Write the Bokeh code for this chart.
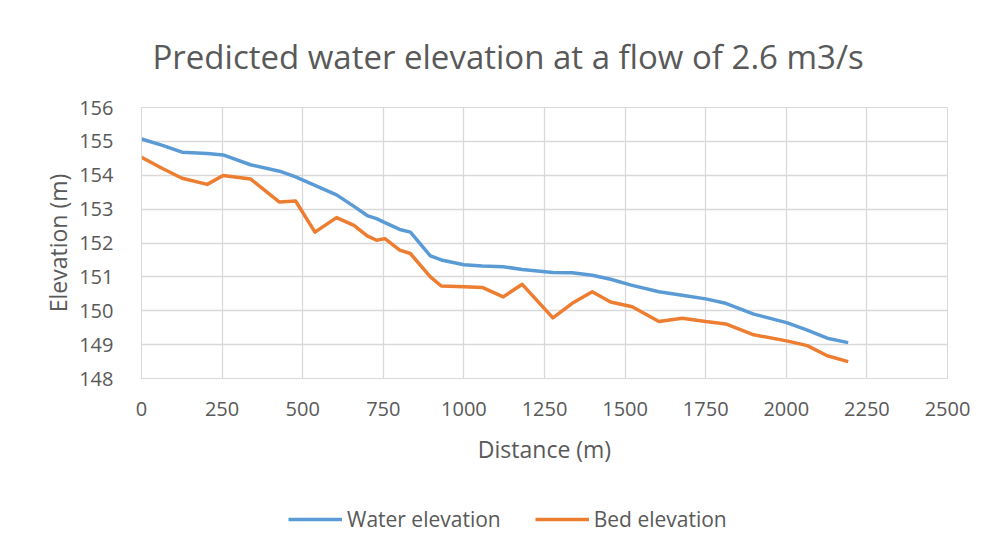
from bokeh.plotting import figure
from bokeh.models import Range1d, Legend, LegendItem, FixedTicker
from bokeh.layouts import column
from bokeh.embed import file_html
from bokeh.resources import INLINE

distance = [0, 65, 126, 204, 253, 338, 428, 478, 538, 605, 659, 700, 729, 755, 801, 834,
            896, 930, 1000, 1057, 1122, 1181, 1276, 1336, 1398, 1455, 1522, 1605, 1677,
            1750, 1812, 1899, 2001, 2065, 2127, 2192]
water_elev = [155.07, 154.88, 154.68, 154.64, 154.60, 154.31, 154.12, 153.95, 153.70, 153.42,
              153.08, 152.81, 152.72, 152.60, 152.40, 152.32, 151.62, 151.50, 151.36, 151.32,
              151.30, 151.22, 151.13, 151.12, 151.05, 150.93, 150.75, 150.56, 150.46, 150.35,
              150.22, 149.90, 149.65, 149.43, 149.19, 149.06]
bed_elev = [154.53, 154.20, 153.91, 153.73, 153.99, 153.89, 153.21, 153.24, 152.32, 152.75,
            152.52, 152.21, 152.08, 152.13, 151.79, 151.69, 151.00, 150.73, 150.71, 150.69,
            150.41, 150.78, 149.79, 150.22, 150.56, 150.26, 150.12, 149.68, 149.78, 149.68,
            149.61, 149.29, 149.11, 148.97, 148.67, 148.50]
series_names = ["Water elevation", "Bed elevation"]
series_colors = ["#5B9BD5", "#ED7D31"]

x_ticks = [0, 250, 500, 750, 1000, 1250, 1500, 1750, 2000, 2250, 2500]
y_ticks = [148, 149, 150, 151, 152, 153, 154, 155, 156]

TXT = "#595959"
GRID = "#D9D9D9"
FONT = "Open Sans"

p = figure(width=983, height=476, output_backend="svg", toolbar_location=None,
           x_range=Range1d(0, 2500), y_range=Range1d(148, 156),
           min_border_left=141, min_border_right=36, min_border_top=107, min_border_bottom=98)

p.title.text = "Predicted water elevation at a flow of 2.6 m3/s"
p.title.align = "left"
p.title.offset = 11
p.title.standoff = 58
p.title.text_font = FONT
p.title.text_font_size = "33px"
p.title.text_font_style = "normal"
p.title.text_color = TXT

p.outline_line_color = GRID
p.background_fill_color = "white"
p.border_fill_color = "white"

p.xaxis.ticker = FixedTicker(ticks=x_ticks)
p.yaxis.ticker = FixedTicker(ticks=y_ticks)
for ax in (p.xaxis, p.yaxis):
    ax.major_tick_line_color = None
    ax.minor_tick_line_color = None
    ax.axis_line_color = GRID
    ax.major_label_text_font = FONT
    ax.major_label_text_font_size = "20px"
    ax.major_label_text_color = TXT
    ax.axis_label_text_font = FONT
    ax.axis_label_text_font_size = "23px"
    ax.axis_label_text_font_style = "normal"
    ax.axis_label_text_color = TXT
p.xaxis.axis_label = "Distance (m)"
p.yaxis.axis_label = "Elevation (m)"
p.xaxis.major_label_standoff = 17
p.yaxis.major_label_standoff = 22
p.xaxis.axis_label_standoff = 14
p.yaxis.axis_label_standoff = 2

p.xgrid.grid_line_color = GRID
p.ygrid.grid_line_color = GRID
p.xgrid.grid_line_width = 1.3
p.ygrid.grid_line_width = 1.3

p.line(distance, water_elev, line_color=series_colors[0], line_width=3.5, line_join="round")
p.line(distance, bed_elev, line_color=series_colors[1], line_width=3.5, line_join="round")

# legend strip below the chart (proxy renderers sit outside the strip's visible range)
p2 = figure(width=983, height=78, output_backend="svg", toolbar_location=None,
            x_range=Range1d(0, 1), y_range=Range1d(0, 1), min_border=0)
p2.axis.visible = False
p2.grid.visible = False
p2.outline_line_color = None
p2.border_fill_color = "white"
items = []
for name, col, ys in zip(series_names, series_colors, [water_elev, bed_elev]):
    r = p2.line(x=distance[-2:], y=ys[-2:], line_color=col, line_width=3.5)
    items.append(LegendItem(label=name, renderers=[r]))
legend = Legend(items=items, orientation="horizontal", location=(147, 21))
legend.label_text_font = FONT
legend.label_text_font_size = "21px"
legend.label_text_color = TXT
legend.glyph_width = 54
legend.glyph_height = 20
legend.label_standoff = 5
legend.spacing = 34
legend.padding = 0
legend.margin = 0
legend.border_line_color = None
legend.background_fill_alpha = 0
p2.add_layout(legend, "center")

layout = column(p, p2, spacing=0)
open("out.html", "w").write(file_html(layout, INLINE))
